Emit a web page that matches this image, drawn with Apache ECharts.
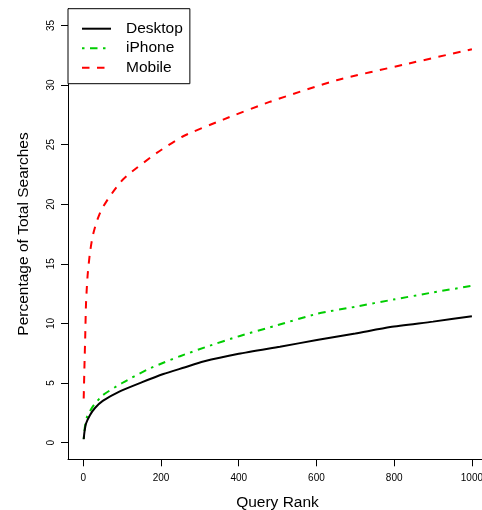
<!DOCTYPE html>
<html>
<head>
<meta charset="utf-8">
<script src="https://cdn.jsdelivr.net/npm/echarts@6/dist/echarts.min.js"></script>
<style>
html,body{margin:0;padding:0;background:#fff;}
#chart{width:482px;height:510px;}
</style>
</head>
<body>
<div id="chart"></div>
<script>
// ---- data ----
var seriesNames = ['Desktop', 'iPhone', 'Mobile'];

var desktopRank = [1, 3, 7, 17, 30, 50, 94, 150, 206, 260, 309, 400, 506, 601, 700, 790, 900, 1000];
var desktopPct  = [0.28, 0.9, 1.6, 2.3, 2.9, 3.5, 4.3, 5.05, 5.75, 6.3, 6.8, 7.45, 8.05, 8.6, 9.15, 9.7, 10.15, 10.6];

var iphoneRank = [1, 4, 10, 26, 51, 100, 163, 206, 249, 318, 403, 489, 601, 700, 798, 900, 1000];
var iphonePct  = [0.3, 1.3, 2.2, 3.1, 4.0, 5.0, 6.1, 6.7, 7.25, 8.05, 8.95, 9.75, 10.8, 11.4, 12.0, 12.6, 13.15];

var mobileRank = [1, 3, 5, 7, 11, 17, 24, 33, 46, 67, 97, 120, 189, 257, 360, 481, 652, 824, 1000];
var mobilePct  = [3.7, 6.5, 9.0, 11.7, 14.0, 15.9, 17.3, 18.4, 19.5, 20.6, 21.9, 22.6, 24.3, 25.7, 27.1, 28.6, 30.4, 31.7, 33.0];

var xTicks = [0, 200, 400, 600, 800, 1000];
var yTicks = [0, 5, 10, 15, 20, 25, 30, 35];

function pairs(xs, ys) { return xs.map(function (x, i) { return [x, ys[i]]; }); }

var FONT = '"Liberation Sans", Arial, Helvetica, sans-serif';
var chart = echarts.init(document.getElementById('chart'), null, {renderer: 'canvas'});

chart.setOption({
  animation: false,
  backgroundColor: '#fff',
  grid: {left: 68, right: 0, top: 8.7, bottom: 50.7, containLabel: false, outerBoundsMode: 'none'},
  legend: {
    orient: 'vertical',
    left: 68, top: 8.7,
    data: seriesNames,
    itemWidth: 29, itemHeight: 14, itemGap: 3.5,
    padding: [12, 7, 8, 13],
    borderColor: '#000', borderWidth: 1, borderRadius: 0,
    itemStyle: {opacity: 0},
    textStyle: {fontFamily: FONT, fontSize: 15.5, color: '#000', padding: [0, 0, 0, 10]},
    backgroundColor: '#fff'
  },
  xAxis: {
    type: 'value', min: -39.4, max: 1026,
    name: 'Query Rank', nameLocation: 'middle', nameGap: 35,
    nameTextStyle: {fontFamily: FONT, fontSize: 15.5, color: '#000', padding: [0, 0, 0, 5]},
    axisLine: {show: true, onZero: false, lineStyle: {color: '#000', width: 1}},
    axisTick: {show: true, inside: false, length: 7, customValues: xTicks, lineStyle: {color: '#000'}},
    axisLabel: {show: true, customValues: xTicks, margin: 14, fontFamily: FONT, fontSize: 10, color: '#000',
      formatter: function (v) { return String(v); },
      showMinLabel: true, showMaxLabel: true, hideOverlap: false},
    splitLine: {show: false}
  },
  yAxis: {
    type: 'value', min: -1.4, max: 36.4,
    name: 'Percentage of Total Searches', nameLocation: 'middle', nameGap: 36,
    nameTextStyle: {fontFamily: FONT, fontSize: 15.5, color: '#000'},
    axisLine: {show: true, onZero: false, lineStyle: {color: '#000', width: 1}},
    axisTick: {show: true, inside: false, length: 7, customValues: yTicks, lineStyle: {color: '#000'}},
    axisLabel: {show: true, customValues: yTicks, rotate: 90, margin: 12, fontFamily: FONT, fontSize: 10, color: '#000',
      formatter: function (v) { return String(v); },
      showMinLabel: true, showMaxLabel: true, hideOverlap: false},
    splitLine: {show: false}
  },
  series: [
    {
      name: 'Desktop', type: 'line', data: pairs(desktopRank, desktopPct),
      symbol: 'none', showSymbol: false, smooth: 0.2,
      lineStyle: {color: '#000', width: 2, type: 'solid'},
      itemStyle: {color: '#000'}, z: 3
    },
    {
      name: 'iPhone', type: 'line', data: pairs(iphoneRank, iphonePct),
      symbol: 'none', showSymbol: false, smooth: 0.2,
      lineStyle: {color: '#00CD00', width: 2, type: [2.5, 5.5, 7.5, 5.5]},
      itemStyle: {color: '#00CD00'}, z: 2
    },
    {
      name: 'Mobile', type: 'line', data: pairs(mobileRank, mobilePct),
      symbol: 'none', showSymbol: false, smooth: 0.2,
      lineStyle: {color: '#FF0000', width: 2, type: [7.5, 7.5]},
      itemStyle: {color: '#FF0000'}, z: 2
    }
  ]
});
</script>
</body>
</html>
